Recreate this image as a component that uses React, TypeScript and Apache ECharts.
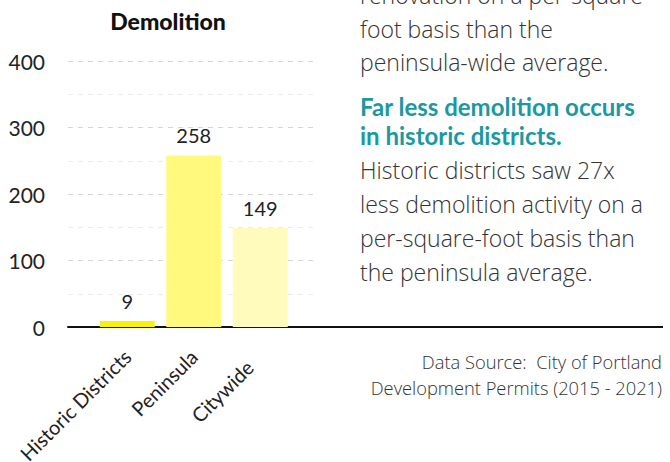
import React, { useEffect, useRef } from "react";
import * as echarts from "echarts";

const categories = ["Historic Districts", "Peninsula", "Citywide"];
const values = [9, 258, 149];
const barColors = ["#fbf200", "#fff97e", "#fffbbd"];
const yTicks = [0, 100, 200, 300, 400];

const noteLinesTop = ["renovation on a per-square", "foot basis than the", "peninsula-wide average."];
const headlineLines = ["Far less demolition occurs", "in historic districts."];
const noteLinesBottom = [
  "Historic districts saw 27x",
  "less demolition activity on a",
  "per-square-foot basis than",
  "the peninsula average.",
];
const sourceLines = ["Data Source:  City of Portland", "Development Permits (2015 - 2021)"];

const FONT = "Lato, 'Open Sans', sans-serif";
const LIGHT = "'Open Sans', Lato, sans-serif";

export default function App() {
  const ref = useRef<HTMLDivElement>(null);
  useEffect(() => {
    if (!ref.current) return;
    const chart = echarts.init(ref.current, null, { renderer: "svg" });
    const top = 61;
    const bottom = 135;
    const texts: any[] = [];
    texts.push({
      type: "text",
      x: 168,
      y: 21,
      style: { text: "Demolition", font: `900 23px ${FONT}`, fill: "#111", align: "center", verticalAlign: "middle" },
    });
    noteLinesTop.forEach((t, i) => {
      texts.push({
        type: "text",
        x: 360,
        y: 2 + i * 33.5 - 7,
        style: { text: t, font: `300 23px ${LIGHT}`, fill: "#333", align: "left", verticalAlign: "middle" },
      });
    });
    headlineLines.forEach((t, i) => {
      texts.push({
        type: "text",
        x: 360,
        y: 114 + i * 29.5 - 8,
        style: { text: t, font: `bold 24px ${FONT}`, fill: "#1b98a4", align: "left", verticalAlign: "middle" },
      });
    });
    noteLinesBottom.forEach((t, i) => {
      texts.push({
        type: "text",
        x: 360,
        y: 177 + i * 34 - 7,
        style: { text: t, font: `300 23px ${LIGHT}`, fill: "#333", align: "left", verticalAlign: "middle" },
      });
    });
    sourceLines.forEach((t, i) => {
      texts.push({
        type: "text",
        x: 662,
        y: 367 + i * 26 - 6,
        style: { text: t, font: `300 18.3px ${LIGHT}`, fill: "#333", align: "right", verticalAlign: "middle" },
      });
    });
    texts.push({
      type: "line",
      shape: { x1: 316, y1: 327, x2: 663, y2: 327 },
      style: { stroke: "#111", lineWidth: 2 },
      z: 10,
    });

    const catData = categories.map((c, i) =>
      i === 2 ? { value: c, textStyle: { padding: [0, 15, 0, 0] } } : c
    );

    chart.setOption({
      animation: false,
      textStyle: { fontFamily: FONT },
      grid: [
        { left: 68, right: 670 - 316, top, bottom, containLabel: false, outerBoundsMode: "none" },
        { left: 94, width: 199.5, top, bottom, containLabel: false, outerBoundsMode: "none" },
      ],
      xAxis: [
        {
          type: "value",
          gridIndex: 0,
          min: 0,
          max: 1,
          axisLabel: { show: false },
          axisTick: { show: false },
          splitLine: { show: false },
          axisLine: { show: true, lineStyle: { color: "#111", width: 2 } },
        },
        {
          type: "category",
          gridIndex: 1,
          data: catData,
          axisLine: { show: false },
          axisTick: { show: false },
          axisLabel: { rotate: 45, fontSize: 20, color: "#222", margin: 26, fontFamily: FONT },
        },
      ],
      yAxis: [
        {
          type: "value",
          gridIndex: 0,
          min: 0,
          max: 400,
          interval: 100,
          axisLine: { show: false },
          axisTick: { show: false },
          axisLabel: {
            fontSize: 21,
            color: "#222",
            margin: 23,
            fontFamily: FONT,
            formatter: (v: number) => (yTicks.includes(v) ? String(v) : ""),
          },
          splitLine: { show: true, lineStyle: { color: "#d6d6d6", type: [5, 5], width: 1 } },
          minorTick: { show: false, splitNumber: 2 },
          minorSplitLine: { show: true, lineStyle: { color: "#ececec", type: [5, 5], width: 1 } },
        },
        {
          type: "value",
          gridIndex: 1,
          min: 0,
          max: 400,
          show: false,
          splitLine: { show: false },
        },
      ],
      series: [
        {
          type: "bar",
          xAxisIndex: 1,
          yAxisIndex: 1,
          barWidth: 55,
          data: values.map((v, i) => ({ value: v, itemStyle: { color: barColors[i] } })),
          label: { show: true, position: "top", distance: 10, fontSize: 20, color: "#222", fontFamily: FONT },
        },
      ],
      graphic: texts,
    });
    return () => chart.dispose();
  }, []);
  return <div ref={ref} style={{ width: 670, height: 462, position: "absolute", left: 0, top: 0 }} />;
}
